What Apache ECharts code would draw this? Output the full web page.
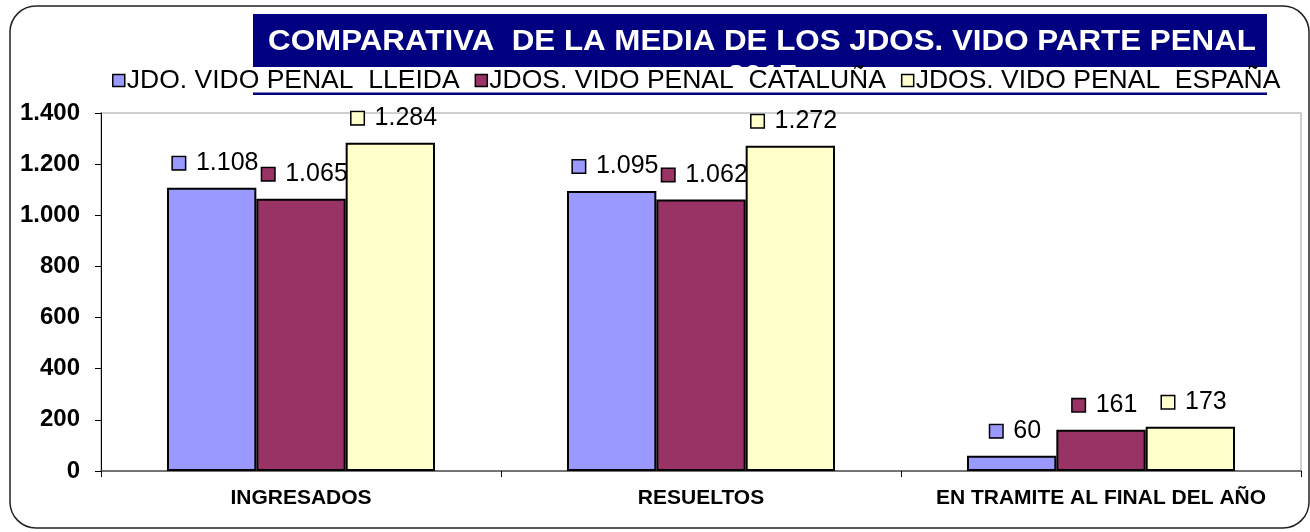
<!DOCTYPE html>
<html>
<head>
<meta charset="utf-8">
<script src="https://cdn.jsdelivr.net/npm/echarts@6/dist/echarts.min.js"></script>
<style>html,body{margin:0;padding:0;background:#fff;}#c{width:1310px;height:532px;}</style>
</head>
<body>
<div id="c"></div>
<script>
const categories = ['INGRESADOS', 'RESUELTOS', 'EN TRAMITE AL FINAL DEL AÑO'];
const seriesNames = ['JDO. VIDO PENAL  LLEIDA', 'JDOS. VIDO PENAL  CATALUÑA', 'JDOS. VIDO PENAL  ESPAÑA'];
const lleida = [1108, 1095, 60];
const cataluna = [1065, 1062, 161];
const espana = [1284, 1272, 173];
const yTicks = { min: 0, max: 1400, interval: 200 };
const titleText = 'COMPARATIVA  DE LA MEDIA DE LOS JDOS. VIDO PARTE PENAL\n2017';

const colors = ['#9999FF', '#993366', '#FFFFCC'];
const FONT = 'Arial, "Liberation Sans", sans-serif';
const fmt = v => String(v).replace(/\B(?=(\d{3})+(?!\d))/g, '.');

function mkSeries(name, data, color) {
  return {
    name: name, type: 'bar', data: data,
    barGap: '0%', barCategoryGap: '33%',
    itemStyle: { color: color, borderColor: '#000', borderWidth: 2 },
    label: {
      show: true, position: 'top', distance: 12, offset: [4, 0],
      formatter: p => '{s|}{v|' + fmt(p.value) + '}',
      rich: {
        s: { width: 12, height: 12, backgroundColor: color, borderColor: '#000', borderWidth: 1.5 },
        v: { fontFamily: FONT, fontSize: 25, color: '#000', padding: [0, 0, 0, 11] }
      }
    }
  };
}

const chart = echarts.init(document.getElementById('c'), null, { renderer: 'canvas' });
chart.setOption({
  animation: false,
  backgroundColor: '#fff',
  color: colors,
  grid: { left: 101, right: 9, top: 113, bottom: 61, show: true, borderColor: '#c0c0c0', borderWidth: 1.5, backgroundColor: 'transparent' },
  graphic: [
    { type: 'rect', z: 0, shape: { x: 10, y: 6, width: 1299, height: 522, r: 26 }, style: { fill: 'none', stroke: '#222', lineWidth: 1.5 } },
    { type: 'rect', z: 1, shape: { x: 253, y: 14, width: 1014, height: 81 }, style: { fill: '#000080' } },
    { type: 'text', z: 2, x: 762, y: 24, scaleX: 1.08, style: { text: titleText, fill: '#fff', font: 'bold 29px ' + FONT, textAlign: 'center', textVerticalAlign: 'top', lineHeight: 35 } },
    { type: 'rect', z: 40, shape: { x: 253, y: 92.5, width: 1014, height: 2.5 }, style: { fill: '#000080' } }
  ],
  legend: {
    z: 20, left: 110, top: 67, padding: [0, 2, 0, 2], backgroundColor: '#fff',
    itemWidth: 12, itemHeight: 12, itemGap: 15, icon: 'rect',
    itemStyle: { borderColor: '#000', borderWidth: 1.5 },
    textStyle: { fontFamily: FONT, fontSize: 26.5, lineHeight: 25, color: '#000', padding: [0, 0, 0, -3] },
    data: seriesNames
  },
  xAxis: {
    type: 'category', data: categories,
    axisLine: { lineStyle: { color: '#555', width: 1.5 } },
    axisTick: { show: true, length: 6, lineStyle: { color: '#000' } },
    axisLabel: { interval: 0, fontFamily: FONT, fontWeight: 'bold', fontSize: 21, color: '#000', margin: 17 }
  },
  yAxis: {
    type: 'value', min: yTicks.min, max: yTicks.max, interval: yTicks.interval,
    axisLine: { show: true, lineStyle: { color: '#000', width: 1 } },
    axisTick: { show: true, length: 6, lineStyle: { color: '#000' } },
    splitLine: { show: false },
    axisLabel: { fontFamily: FONT, fontWeight: 'bold', fontSize: 24, color: '#000', margin: 21, formatter: fmt }
  },
  series: [
    mkSeries(seriesNames[0], lleida, colors[0]),
    mkSeries(seriesNames[1], cataluna, colors[1]),
    mkSeries(seriesNames[2], espana, colors[2])
  ]
});
</script>
</body>
</html>
